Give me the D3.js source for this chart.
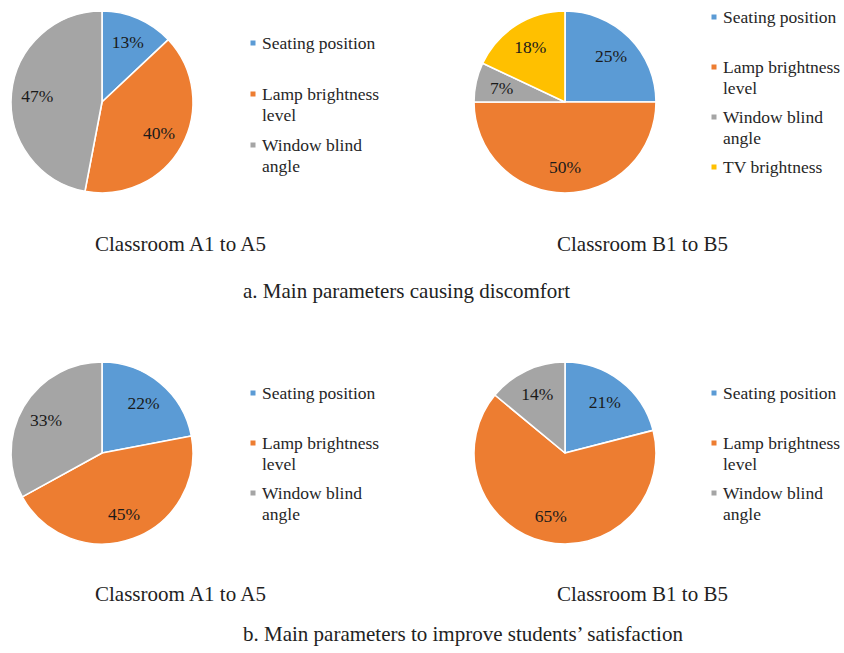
<!DOCTYPE html>
<html>
<head>
<meta charset="utf-8">
<script src="https://cdn.jsdelivr.net/npm/d3@7/dist/d3.min.js"></script>
<style>
  html, body { margin: 0; padding: 0; background: #fff; }
  svg { display: block; }
</style>
</head>
<body>
<svg id="chart" width="844" height="653"></svg>
<script>
// Parameters named in the survey
const paramsA = ["Seating position", "Lamp brightness level", "Window blind angle"];
const paramsB = ["Seating position", "Lamp brightness level", "Window blind angle", "TV brightness"];

// Share of responses (%)
const discomfortA = [13, 40, 47];
const discomfortB = [25, 50, 7, 18];
const satisfactionA = [22, 45, 33];
const satisfactionB = [21, 65, 14];

const captionA = "Classroom A1 to A5";
const captionB = "Classroom B1 to B5";
const subtitleA = "a. Main parameters causing discomfort";
const subtitleB = "b. Main parameters to improve students\u2019 satisfaction";

const FONT = '"Liberation Serif"';

const colors = d3.scaleOrdinal()
  .domain(paramsB)
  .range(["#5B9BD5", "#ED7D31", "#A5A5A5", "#FFC000"]);

const svg = d3.select("#chart");
const R = 91;

const panels = [
  { cats: paramsA, vals: discomfortA,   cx: 102, cy: 102, lx: 253, ly: 43,  step: 51 },
  { cats: paramsB, vals: discomfortB,   cx: 565, cy: 102, lx: 714, ly: 17,  step: 50 },
  { cats: paramsA, vals: satisfactionA, cx: 102, cy: 453, lx: 253, ly: 393, step: 50 },
  { cats: paramsA, vals: satisfactionB, cx: 565, cy: 453, lx: 714, ly: 393, step: 50 }
];

const pie = d3.pie().sort(null).value(d => d.v);
const arc = d3.arc().innerRadius(0).outerRadius(R);
const labelArc = d3.arc().innerRadius(65).outerRadius(65);

panels.forEach(p => {
  const data = p.cats.map((c, i) => ({ c, v: p.vals[i] }));
  const arcs = pie(data);

  svg.append("g").attr("transform", `translate(${p.cx},${p.cy})`)
    .selectAll("path").data(arcs).join("path")
    .attr("d", arc)
    .attr("fill", d => colors(d.data.c))
    .attr("stroke", "#fff")
    .attr("stroke-width", 1.6)
    .attr("stroke-linejoin", "round");

  // percentage labels, placed in page coordinates
  arcs.forEach(d => {
    const [x, y] = labelArc.centroid(d);
    svg.append("text")
      .attr("x", p.cx + x)
      .attr("y", p.cy + y + 6)
      .attr("text-anchor", "middle")
      .style("font-family", FONT)
      .style("font-size", "17.5px")
      .attr("fill", "#1a1a1a")
      .text(d.data.v + "%");
  });

  // legend
  data.forEach((d, i) => {
    const y0 = p.ly + i * p.step;
    svg.append("rect")
      .attr("x", p.lx - 2.5).attr("y", y0 - 2.5).attr("width", 5).attr("height", 5)
      .attr("fill", colors(d.c));
    // wrap words onto lines no wider than the legend column
    const words = d.c.split(" ");
    let lineNo = 0;
    let line = [];
    const mk = () => svg.append("text")
      .attr("x", p.lx + 9).attr("y", y0 + 6 + lineNo * 21)
      .style("font-family", FONT)
      .style("font-size", "17.5px")
      .attr("fill", "#262626");
    let t = mk();
    words.forEach(w => {
      line.push(w);
      t.text(line.join(" "));
      if (t.node().getComputedTextLength() > 122 && line.length > 1) {
        line.pop();
        t.text(line.join(" "));
        line = [w];
        lineNo += 1;
        t = mk().text(w);
      }
    });
  });
});

// captions
const capStyle = sel => sel.style("font-family", FONT).style("font-size", "21px").attr("fill", "#222");
svg.append("text").attr("x", 95).attr("y", 251).text(captionA).call(capStyle);
svg.append("text").attr("x", 557).attr("y", 251).text(captionB).call(capStyle);
svg.append("text").attr("x", 243).attr("y", 298).text(subtitleA).call(capStyle);
svg.append("text").attr("x", 95).attr("y", 601).text(captionA).call(capStyle);
svg.append("text").attr("x", 557).attr("y", 601).text(captionB).call(capStyle);
svg.append("text").attr("x", 243).attr("y", 641).text(subtitleB).call(capStyle);
</script>
</body>
</html>
